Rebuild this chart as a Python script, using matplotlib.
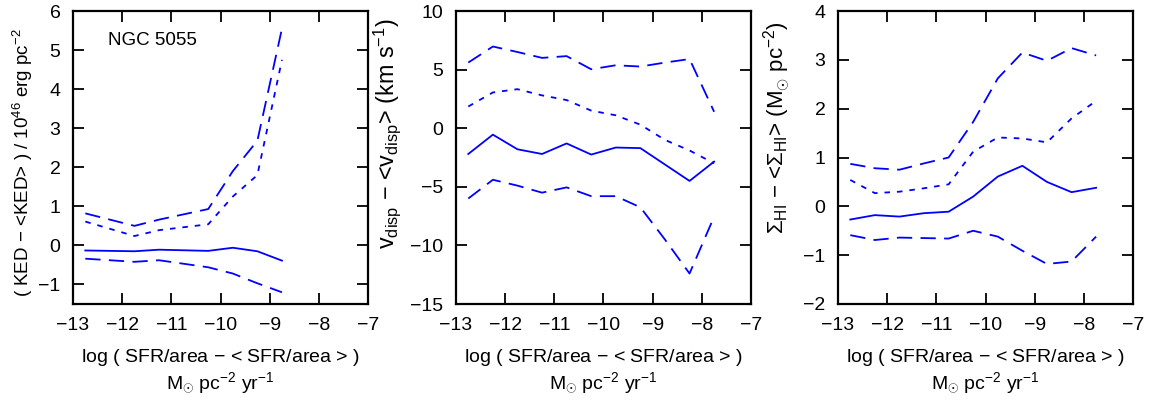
import matplotlib
matplotlib.use("Agg")
import matplotlib.pyplot as plt

plt.rcParams['font.family'] = ['Liberation Sans', 'DejaVu Sans']
plt.rcParams['mathtext.fontset'] = 'custom'
plt.rcParams['mathtext.rm'] = 'Liberation Sans'
plt.rcParams['mathtext.it'] = 'Liberation Sans'
plt.rcParams['lines.scale_dashes'] = False

# panel 1: KED
x1 = [-12.75, -11.75, -11.25, -10.25, -9.75, -9.25, -8.75]
ked_mid = [-0.13, -0.15, -0.11, -0.14, -0.06, -0.15, -0.39]
ked_lo = [-0.34, -0.42, -0.38, -0.56, -0.72, -0.97, -1.20]
ked_hi = [0.82, 0.50, 0.66, 0.93, 1.90, 2.68, 5.55]
ked_q = [0.61, 0.24, 0.39, 0.54, 1.25, 1.80, 4.75]

# panel 2: velocity dispersion
x2 = [-12.75, -12.25, -11.75, -11.25, -10.75, -10.25, -9.75, -9.25, -8.75, -8.25, -7.75]
v_mid = [-2.2, -0.55, -1.8, -2.2, -1.3, -2.25, -1.65, -1.7, -3.1, -4.5, -2.85]
v_lo = [-6.0, -4.4, -4.9, -5.5, -5.05, -5.8, -5.8, -6.75, -9.5, -12.4, -7.55]
v_hi = [5.6, 6.97, 6.5, 6.0, 6.15, 5.03, 5.37, 5.26, 5.6, 5.9, 1.4]
v_q = [1.85, 3.05, 3.33, 2.8, 2.4, 1.5, 1.1, 0.3, -1.0, -1.9, -3.0]

# panel 3: HI surface density
x3 = [-12.75, -12.25, -11.75, -11.25, -10.75, -10.25, -9.75, -9.25, -8.75, -8.25, -7.75]
s_mid = [-0.27, -0.18, -0.21, -0.14, -0.11, 0.20, 0.61, 0.83, 0.50, 0.29, 0.38]
s_lo = [-0.59, -0.69, -0.64, -0.65, -0.66, -0.50, -0.62, -0.91, -1.18, -1.13, -0.62]
s_hi = [0.87, 0.78, 0.75, 0.88, 1.00, 1.73, 2.62, 3.15, 2.98, 3.24, 3.09]
s_q = [0.54, 0.27, 0.30, 0.37, 0.45, 1.12, 1.41, 1.39, 1.31, 1.80, 2.16]

panels = [
    (x1, ked_mid, ked_lo, ked_hi, ked_q, (-1.5, 6), [-1, 0, 1, 2, 3, 4, 5, 6],
     r'( KED $-$ <KED> ) / 10$^{46}$ erg pc$^{-2}$', 13.5, (-0.13, 0.483)),
    (x2, v_mid, v_lo, v_hi, v_q, (-15, 10), [-15, -10, -5, 0, 5, 10],
     r'v$_{\rm disp}$ $-$ <v$_{\rm disp}$> (km s$^{-1}$)', 16.8, (-0.18, 0.58)),
    (x3, s_mid, s_lo, s_hi, s_q, (-2, 4), [-2, -1, 0, 1, 2, 3, 4],
     r'$\Sigma_{\rm HI}$ $-$ <$\Sigma_{\rm HI}$> (M$_{\odot}$ pc$^{-2}$)', 16, (-0.153, 0.603)),
]

fig = plt.figure(figsize=(11.49, 4.04), dpi=100)
lefts = [73, 456, 838]

for left, (x, mid, lo, hi, q, ylim, yt, ylab, yfs, ypos) in zip(lefts, panels):
    ax = fig.add_axes([left / 1149, 100 / 404, 295 / 1149, 293 / 404])
    ax.plot(x, mid, color='#0000ff', lw=1.3)
    ax.plot(x, lo, color='#0000ff', lw=1.3, dashes=(11, 6))
    ax.plot(x, hi, color='#0000ff', lw=1.3, dashes=(11, 6))
    ax.plot(x, q, color='#0000ff', lw=1.3, dashes=(4, 5))
    ax.set_xlim(-13, -7)
    ax.set_ylim(*ylim)
    ax.set_xticks([-13, -12, -11, -10, -9, -8, -7])
    ax.set_yticks(yt)
    ax.tick_params(direction='in', length=8, width=1.3, top=True, right=True,
                   labelsize=14, pad=9)
    for s in ax.spines.values():
        s.set_linewidth(1.6)
    ax.text(0.5, -0.184, 'log ( SFR/area $-$ < SFR/area > )', transform=ax.transAxes,
            ha='center', va='center', fontsize=14)
    ax.text(0.5, -0.27, 'M$_{\\odot}$ pc$^{-2}$ yr$^{-1}$', transform=ax.transAxes,
            ha='center', va='center', fontsize=14)
    ax.set_ylabel(ylab, fontsize=yfs)
    ax.yaxis.set_label_coords(*ypos)

fig.axes[0].text(0.12, 0.9, 'NGC 5055', transform=fig.axes[0].transAxes,
                 fontsize=13.5, va='center')

fig.savefig('out.png', dpi=100)
